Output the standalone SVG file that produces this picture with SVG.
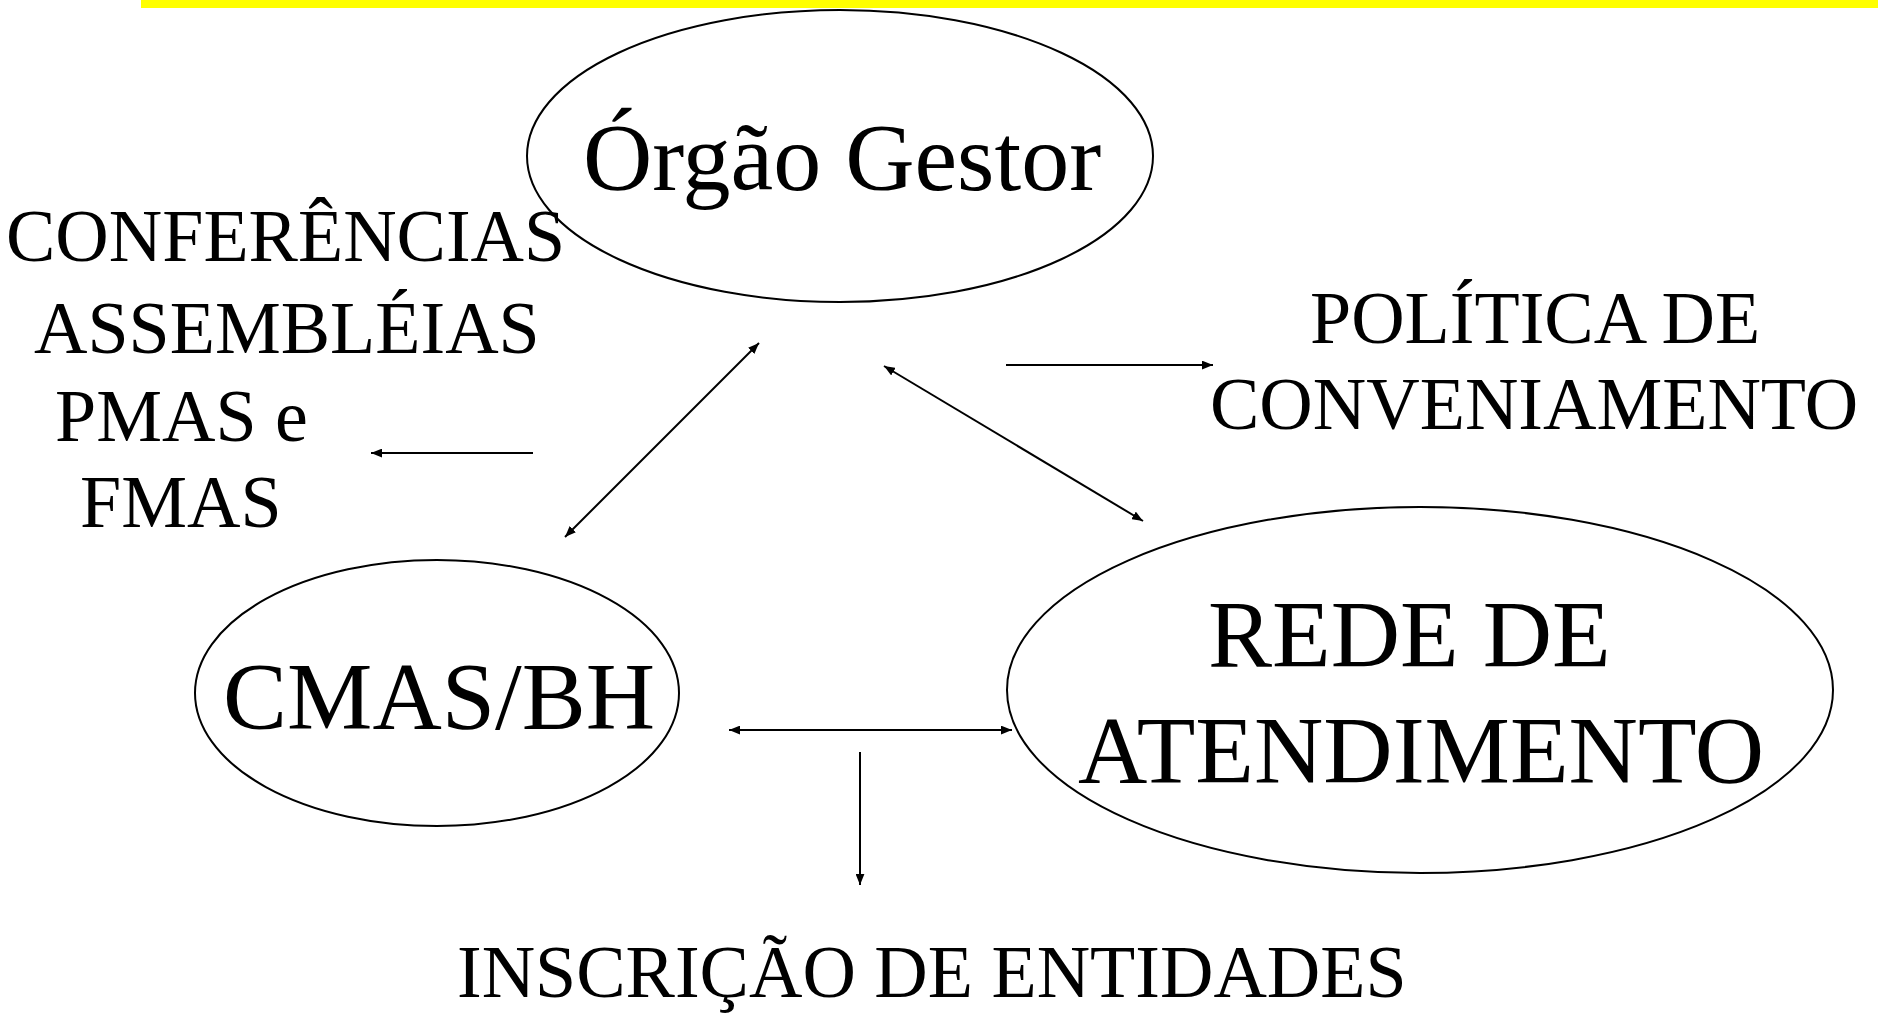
<svg xmlns="http://www.w3.org/2000/svg" width="1878" height="1014" viewBox="0 0 1878 1014">
<style>
.node { fill: #ffffff; stroke: #000000; stroke-width: 2; }
.big { font-family: "Liberation Serif", "Times New Roman", serif; font-size: 96px; fill: #000000; }
.lbl { font-family: "Liberation Serif", "Times New Roman", serif; font-size: 74px; fill: #000000; }
.conn line { stroke: #000000; stroke-width: 2; fill: none; }
</style>
<defs>
<marker id="ah" viewBox="0 0 10 8" refX="10" refY="4" markerWidth="11" markerHeight="9" markerUnits="userSpaceOnUse" orient="auto-start-reverse">
<path d="M0,0 L10,4 L0,8 z" fill="#000000"/>
</marker>
</defs>
<rect x="141" y="0" width="1737" height="8" fill="#ffff00"/>
<g id="orgao-gestor">
<ellipse class="node" cx="840" cy="156" rx="313" ry="146"/>
<text class="big" x="583" y="190">Órgão Gestor</text>
</g>
<g id="cmas-bh">
<ellipse class="node" cx="437" cy="693" rx="242" ry="133"/>
<text class="big" x="223" y="729">CMAS/BH</text>
</g>
<g id="rede-atendimento">
<ellipse class="node" cx="1420" cy="690" rx="413" ry="183"/>
<text class="big" x="1208" y="667">REDE DE</text>
<text class="big" x="1078" y="783">ATENDIMENTO</text>
</g>
<g id="conferencias">
<text class="lbl" x="6" y="261">CONFERÊNCIAS</text>
<text class="lbl" x="34" y="353">ASSEMBLÉIAS</text>
<text class="lbl" x="55" y="441">PMAS e</text>
<text class="lbl" x="80" y="527">FMAS</text>
</g>
<g id="politica">
<text class="lbl" x="1310" y="343">POLÍTICA DE</text>
<text class="lbl" x="1210" y="429">CONVENIAMENTO</text>
</g>
<g id="inscricao">
<text class="lbl" x="457" y="997">INSCRIÇÃO DE ENTIDADES</text>
</g>
<g id="connectors" class="conn">
<line x1="565" y1="537" x2="759" y2="343" marker-start="url(#ah)" marker-end="url(#ah)"/>
<line x1="884" y1="366" x2="1143" y2="521" marker-start="url(#ah)" marker-end="url(#ah)"/>
<line x1="1006" y1="365" x2="1213" y2="365" marker-end="url(#ah)"/>
<line x1="533" y1="453" x2="371" y2="453" marker-end="url(#ah)"/>
<line x1="729" y1="730" x2="1012" y2="730" marker-start="url(#ah)" marker-end="url(#ah)"/>
<line x1="860" y1="752" x2="860" y2="885" marker-end="url(#ah)"/>
</g>
</svg>
